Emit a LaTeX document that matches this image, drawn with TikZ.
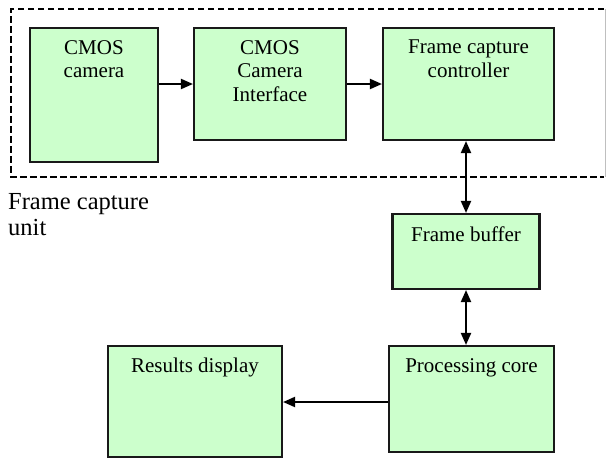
\documentclass[tikz,border=0pt]{standalone}
\usepackage{fontspec}
\setmainfont{Liberation Serif}
\usetikzlibrary{arrows.meta,calc}
\definecolor{boxgreen}{RGB}{204,255,204}
\begin{document}
\begin{tikzpicture}[x=1pt,y=-1pt,
  blk/.style={draw=black!90, line width=2.1pt, fill=boxgreen, inner sep=0pt},
  blktext/.style={anchor=north, inner sep=0pt, align=center,
    font=\fontsize{21}{23.5}\selectfont},
  arr/.style={line width=2pt, -{Triangle[length=12pt,width=10pt]}},
  darr/.style={line width=2pt, {Triangle[length=12pt,width=10pt]}-{Triangle[length=12pt,width=10pt]}},
  unitbox/.style={line width=2.2pt, dash pattern=on 6.5pt off 3.5pt}]
\useasboundingbox (0,0) rectangle (607,458);
% frame capture unit (dashed)
\coordinate (ul) at (11,9);
\coordinate (ur) at (604,9);
\coordinate (ll) at (11,177);
\coordinate (lr) at (604,177);
\draw[unitbox] (ur) -- (ul) -- (ll) -- (lr);
\draw[black!25, line width=0.6pt] (605,9) -- (605,177);
% blocks
\node[blk, minimum width=128pt, minimum height=134pt] (cam) at (94,95) {};
\node[blk, minimum width=152pt, minimum height=112pt] (int) at (270,84) {};
\node[blk, minimum width=171pt, minimum height=112pt] (ctrl) at (468.5,84) {};
\node[blk, minimum width=147pt, minimum height=75pt] (fb) at (466,251.5) {};
\node[blk, minimum width=165pt, minimum height=106pt] (pc) at (471.5,399) {};
\node[blk, minimum width=174pt, minimum height=111pt] (rd) at (195,401.5) {};
% texts
\node[blktext] (camt) at ($(cam.north)+(0,13)$) {CMOS\\camera};
\node[blktext] (intt) at ($(int.north)+(0,13)$) {CMOS\\Camera\\Interface};
\node[blktext] (ctrlt) at ($(ctrl.north)+(0,13)$) {Frame capture\\controller};
\node[blktext] (fbt) at ($(fb.north)+(0,13.5)$) {Frame buffer};
\node[blktext] (pct) at ($(pc.north)+(0,13)$) {Processing core};
\node[blktext] (rdt) at ($(rd.north)+(0,13)$) {Results display};
\node[anchor=north west, inner sep=0pt, align=left,
  font=\fontsize{24.5}{26}\selectfont] (unitlbl) at (8,193) {Frame capture\\unit};
% connectors
\draw[arr] (cam.east |- int.west) -- (int.west);
\draw[arr] (int.east) -- (ctrl.west);
\draw[darr] (fb.north |- ctrl.south) -- (fb.north);
\draw[darr] (fb.south) -- (fb.south |- pc.north);
\draw[arr] (pc.west |- 0,402) -- (rd.east |- 0,402);
\end{tikzpicture}
\end{document}
